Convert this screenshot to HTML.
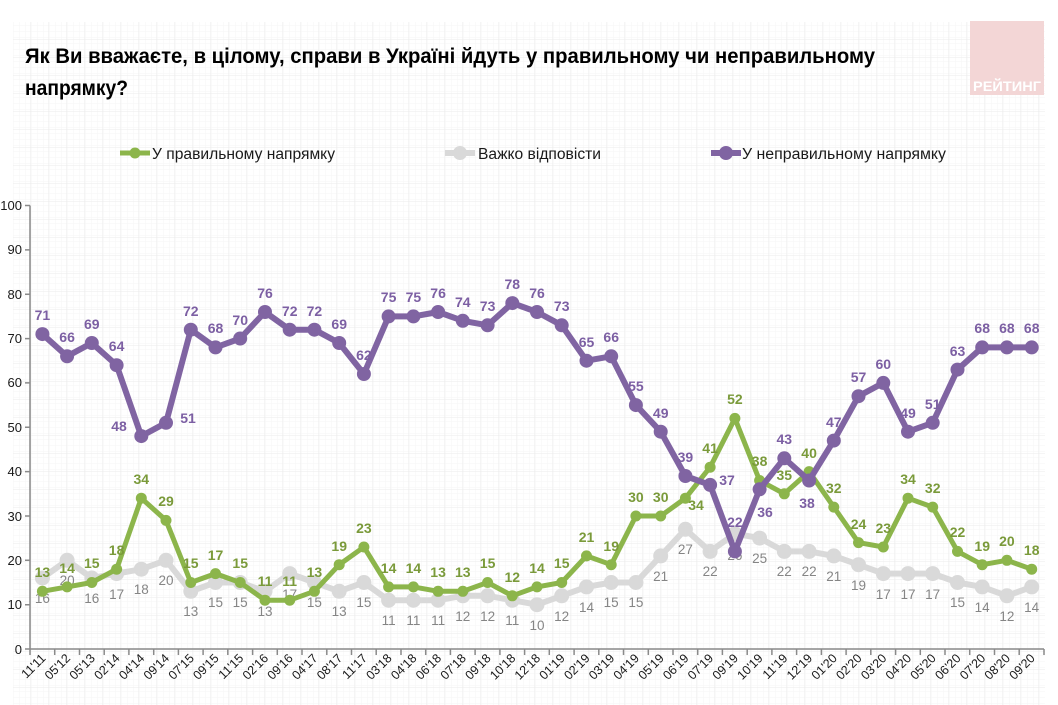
<!DOCTYPE html>
<html><head><meta charset="utf-8"><style>
html,body{margin:0;padding:0;background:#fff;}
svg{display:block;}
text{font-family:"Liberation Sans",Arial,sans-serif;}
.yl{font-size:13px;fill:#1a1a1a;text-anchor:end;}
.xl{font-size:12.5px;fill:#1a1a1a;text-anchor:end;}
.gl{font-size:13.5px;fill:#858585;text-anchor:middle;}
.grn{font-size:14px;font-weight:bold;fill:#7a9a3a;text-anchor:middle;}
.pur{font-size:14px;font-weight:bold;fill:#7c5fa3;text-anchor:middle;}
</style></head><body>
<svg width="1058" height="705" viewBox="0 0 1058 705" xmlns="http://www.w3.org/2000/svg">
<defs>
<pattern id="minor" x="13" y="22" width="6" height="6" patternUnits="userSpaceOnUse">
<path d="M6 0V6M0 6H6" stroke="#f6f6f6" stroke-width="1" fill="none"/>
</pattern>
<pattern id="major" x="13" y="22" width="18" height="18" patternUnits="userSpaceOnUse">
<rect width="18" height="18" fill="url(#minor)"/>
<path d="M18 0V18M0 18H18" stroke="#ebebeb" stroke-width="1" fill="none"/>
</pattern>
</defs>
<rect width="1058" height="705" fill="#fff"/>
<rect x="13" y="22" width="1032" height="683" fill="url(#major)"/>

<!-- logo -->
<rect x="970" y="21" width="74" height="74" fill="#f3d6d6"/>
<text x="973" y="91" font-size="14" font-weight="bold" fill="#ffffff" textLength="68" lengthAdjust="spacingAndGlyphs">РЕЙТИНГ</text>

<!-- title -->
<text x="25" y="63" font-size="21" font-weight="bold" fill="#000" textLength="850" lengthAdjust="spacingAndGlyphs">Як Ви вважаєте, в цілому, справи в Україні йдуть у правильному чи неправильному</text>
<text x="25" y="95" font-size="21" font-weight="bold" fill="#000" textLength="103" lengthAdjust="spacingAndGlyphs">напрямку?</text>

<!-- legend -->
<line x1="120" y1="153" x2="150" y2="153" stroke="#8cb54b" stroke-width="5"/>
<circle cx="135" cy="153" r="5.5" fill="#8cb54b"/>
<text x="152" y="159" font-size="15.5" fill="#1a1a1a" textLength="183" lengthAdjust="spacingAndGlyphs">У правильному напрямку</text>
<line x1="445" y1="153" x2="475" y2="153" stroke="#d9d9d9" stroke-width="6"/>
<circle cx="460" cy="153" r="7" fill="#d9d9d9"/>
<text x="478" y="159" font-size="15.5" fill="#1a1a1a" textLength="123" lengthAdjust="spacingAndGlyphs">Важко відповісти</text>
<line x1="711" y1="153" x2="741" y2="153" stroke="#8064a2" stroke-width="6"/>
<circle cx="726" cy="153" r="7" fill="#8064a2"/>
<text x="742" y="159" font-size="15.5" fill="#1a1a1a" textLength="204" lengthAdjust="spacingAndGlyphs">У неправильному напрямку</text>

<!-- axes -->
<g stroke="#8a8a8a" stroke-width="1.5" fill="none">
<line x1="30" y1="205.5" x2="30" y2="649"/>
<line x1="30" y1="649" x2="1044" y2="649"/>
<path d="M25 205.5H30M25 249.9H30M25 294.2H30M25 338.6H30M25 382.9H30M25 427.3H30M25 471.6H30M25 516H30M25 560.3H30M25 604.7H30M25 649H30"/>
<path d="M30 649v6M54.7 649v6M79.5 649v6M104.2 649v6M128.9 649v6M153.7 649v6M178.4 649v6M203.1 649v6M227.8 649v6M252.6 649v6M277.3 649v6M302 649v6M326.8 649v6M351.5 649v6M376.2 649v6M401 649v6M425.7 649v6M450.4 649v6M475.1 649v6M499.9 649v6M524.6 649v6M549.3 649v6M574.1 649v6M598.8 649v6M623.5 649v6M648.3 649v6M673 649v6M697.7 649v6M722.4 649v6M747.2 649v6M771.9 649v6M796.6 649v6M821.4 649v6M846.1 649v6M870.8 649v6M895.6 649v6M920.3 649v6M945 649v6M969.7 649v6M994.5 649v6M1019.2 649v6M1044 649v6"/>
</g>
<g class="yl">
<text x="22" y="210">100</text>
<text x="22" y="254">90</text>
<text x="22" y="299">80</text>
<text x="22" y="343">70</text>
<text x="22" y="387">60</text>
<text x="22" y="432">50</text>
<text x="22" y="476">40</text>
<text x="22" y="521">30</text>
<text x="22" y="565">20</text>
<text x="22" y="609">10</text>
<text x="22" y="654">0</text>
</g>
<g class="xl">
<text transform="translate(46.4,659) rotate(-45)">11'11</text>
<text transform="translate(71.1,659) rotate(-45)">05'12</text>
<text transform="translate(95.8,659) rotate(-45)">05'13</text>
<text transform="translate(120.6,659) rotate(-45)">02'14</text>
<text transform="translate(145.3,659) rotate(-45)">04'14</text>
<text transform="translate(170,659) rotate(-45)">09'14</text>
<text transform="translate(194.8,659) rotate(-45)">07'15</text>
<text transform="translate(219.5,659) rotate(-45)">09'15</text>
<text transform="translate(244.2,659) rotate(-45)">11'15</text>
<text transform="translate(269,659) rotate(-45)">02'16</text>
<text transform="translate(293.7,659) rotate(-45)">09'16</text>
<text transform="translate(318.4,659) rotate(-45)">04'17</text>
<text transform="translate(343.2,659) rotate(-45)">08'17</text>
<text transform="translate(367.9,659) rotate(-45)">11'17</text>
<text transform="translate(392.6,659) rotate(-45)">03'18</text>
<text transform="translate(417.4,659) rotate(-45)">04'18</text>
<text transform="translate(442.1,659) rotate(-45)">06'18</text>
<text transform="translate(466.8,659) rotate(-45)">07'18</text>
<text transform="translate(491.6,659) rotate(-45)">09'18</text>
<text transform="translate(516.3,659) rotate(-45)">10'18</text>
<text transform="translate(541,659) rotate(-45)">12'18</text>
<text transform="translate(565.7,659) rotate(-45)">01'19</text>
<text transform="translate(590.5,659) rotate(-45)">02'19</text>
<text transform="translate(615.2,659) rotate(-45)">03'19</text>
<text transform="translate(639.9,659) rotate(-45)">04'19</text>
<text transform="translate(664.7,659) rotate(-45)">05'19</text>
<text transform="translate(689.4,659) rotate(-45)">06'19</text>
<text transform="translate(714.1,659) rotate(-45)">07'19</text>
<text transform="translate(738.9,659) rotate(-45)">09'19</text>
<text transform="translate(763.6,659) rotate(-45)">10'19</text>
<text transform="translate(788.3,659) rotate(-45)">11'19</text>
<text transform="translate(813.1,659) rotate(-45)">12'19</text>
<text transform="translate(837.8,659) rotate(-45)">01'20</text>
<text transform="translate(862.5,659) rotate(-45)">02'20</text>
<text transform="translate(887.3,659) rotate(-45)">03'20</text>
<text transform="translate(912,659) rotate(-45)">04'20</text>
<text transform="translate(936.7,659) rotate(-45)">05'20</text>
<text transform="translate(961.5,659) rotate(-45)">06'20</text>
<text transform="translate(986.2,659) rotate(-45)">07'20</text>
<text transform="translate(1010.9,659) rotate(-45)">08'20</text>
<text transform="translate(1035.7,659) rotate(-45)">09'20</text>
</g>

<!-- GREY series -->
<polyline fill="none" stroke="#d9d9d9" stroke-width="6" stroke-linejoin="round" points="42.4,578 67.1,560.3 91.8,578 116.6,573.6 141.3,569.2 166,560.3 190.8,591.3 215.5,582.5 240.2,582.5 265,591.3 289.7,573.6 314.4,582.5 339.2,591.3 363.9,582.5 388.6,600.2 413.4,600.2 438.1,600.2 462.8,595.8 487.6,595.8 512.3,600.2 537,604.7 561.7,595.8 586.5,586.9 611.2,582.5 635.9,582.5 660.7,555.9 685.4,529.3 710.1,551.4 734.9,533.7 759.6,538.1 784.3,551.4 809.1,551.4 833.8,555.9 858.5,564.7 883.3,573.6 908,573.6 932.7,573.6 957.5,582.5 982.2,586.9 1006.9,595.8 1031.7,586.9"/>
<g fill="#d9d9d9">
<circle cx="42.4" cy="578" r="7.5"/><circle cx="67.1" cy="560.3" r="7.5"/><circle cx="91.8" cy="578" r="7.5"/><circle cx="116.6" cy="573.6" r="7.5"/><circle cx="141.3" cy="569.2" r="7.5"/><circle cx="166" cy="560.3" r="7.5"/><circle cx="190.8" cy="591.3" r="7.5"/><circle cx="215.5" cy="582.5" r="7.5"/><circle cx="240.2" cy="582.5" r="7.5"/><circle cx="265" cy="591.3" r="7.5"/><circle cx="289.7" cy="573.6" r="7.5"/><circle cx="314.4" cy="582.5" r="7.5"/><circle cx="339.2" cy="591.3" r="7.5"/><circle cx="363.9" cy="582.5" r="7.5"/><circle cx="388.6" cy="600.2" r="7.5"/><circle cx="413.4" cy="600.2" r="7.5"/><circle cx="438.1" cy="600.2" r="7.5"/><circle cx="462.8" cy="595.8" r="7.5"/><circle cx="487.6" cy="595.8" r="7.5"/><circle cx="512.3" cy="600.2" r="7.5"/><circle cx="537" cy="604.7" r="7.5"/><circle cx="561.7" cy="595.8" r="7.5"/><circle cx="586.5" cy="586.9" r="7.5"/><circle cx="611.2" cy="582.5" r="7.5"/><circle cx="635.9" cy="582.5" r="7.5"/><circle cx="660.7" cy="555.9" r="7.5"/><circle cx="685.4" cy="529.3" r="7.5"/><circle cx="710.1" cy="551.4" r="7.5"/><circle cx="734.9" cy="533.7" r="7.5"/><circle cx="759.6" cy="538.1" r="7.5"/><circle cx="784.3" cy="551.4" r="7.5"/><circle cx="809.1" cy="551.4" r="7.5"/><circle cx="833.8" cy="555.9" r="7.5"/><circle cx="858.5" cy="564.7" r="7.5"/><circle cx="883.3" cy="573.6" r="7.5"/><circle cx="908" cy="573.6" r="7.5"/><circle cx="932.7" cy="573.6" r="7.5"/><circle cx="957.5" cy="582.5" r="7.5"/><circle cx="982.2" cy="586.9" r="7.5"/><circle cx="1006.9" cy="595.8" r="7.5"/><circle cx="1031.7" cy="586.9" r="7.5"/>
</g>
<g class="gl">
<text x="42.4" y="603">16</text><text x="67.1" y="585">20</text><text x="91.8" y="603">16</text><text x="116.6" y="599">17</text><text x="141.3" y="594">18</text><text x="166" y="585">20</text><text x="190.8" y="616">13</text><text x="215.5" y="607">15</text><text x="240.2" y="607">15</text><text x="265" y="616">13</text><text x="289.7" y="599">17</text><text x="314.4" y="607">15</text><text x="339.2" y="616">13</text><text x="363.9" y="607">15</text><text x="388.6" y="625">11</text><text x="413.4" y="625">11</text><text x="438.1" y="625">11</text><text x="462.8" y="621">12</text><text x="487.6" y="621">12</text><text x="512.3" y="625">11</text><text x="537" y="630">10</text><text x="561.7" y="621">12</text><text x="586.5" y="612">14</text><text x="611.2" y="607">15</text><text x="635.9" y="607">15</text><text x="660.7" y="581">21</text><text x="685.4" y="554">27</text><text x="710.1" y="576">22</text><text x="734.9" y="560">26</text><text x="759.6" y="563">25</text><text x="784.3" y="576">22</text><text x="809.1" y="576">22</text><text x="833.8" y="581">21</text><text x="858.5" y="590">19</text><text x="883.3" y="599">17</text><text x="908" y="599">17</text><text x="932.7" y="599">17</text><text x="957.5" y="607">15</text><text x="982.2" y="612">14</text><text x="1006.9" y="621">12</text><text x="1031.7" y="612">14</text>
</g>

<!-- GREEN series -->
<polyline fill="none" stroke="#8cb54b" stroke-width="5" stroke-linejoin="round" points="42.4,591.3 67.1,586.9 91.8,582.5 116.6,569.2 141.3,498.2 166,520.4 190.8,582.5 215.5,573.6 240.2,582.5 265,600.2 289.7,600.2 314.4,591.3 339.2,564.7 363.9,547 388.6,586.9 413.4,586.9 438.1,591.3 462.8,591.3 487.6,582.5 512.3,595.8 537,586.9 561.7,582.5 586.5,555.9 611.2,564.7 635.9,516 660.7,516 685.4,498.2 710.1,467.2 734.9,418.4 759.6,480.5 784.3,493.8 809.1,471.6 833.8,507.1 858.5,542.6 883.3,547 908,498.2 932.7,507.1 957.5,551.4 982.2,564.7 1006.9,560.3 1031.7,569.2"/>
<g fill="#8cb54b">
<circle cx="42.4" cy="591.3" r="5.5"/><circle cx="67.1" cy="586.9" r="5.5"/><circle cx="91.8" cy="582.5" r="5.5"/><circle cx="116.6" cy="569.2" r="5.5"/><circle cx="141.3" cy="498.2" r="5.5"/><circle cx="166" cy="520.4" r="5.5"/><circle cx="190.8" cy="582.5" r="5.5"/><circle cx="215.5" cy="573.6" r="5.5"/><circle cx="240.2" cy="582.5" r="5.5"/><circle cx="265" cy="600.2" r="5.5"/><circle cx="289.7" cy="600.2" r="5.5"/><circle cx="314.4" cy="591.3" r="5.5"/><circle cx="339.2" cy="564.7" r="5.5"/><circle cx="363.9" cy="547" r="5.5"/><circle cx="388.6" cy="586.9" r="5.5"/><circle cx="413.4" cy="586.9" r="5.5"/><circle cx="438.1" cy="591.3" r="5.5"/><circle cx="462.8" cy="591.3" r="5.5"/><circle cx="487.6" cy="582.5" r="5.5"/><circle cx="512.3" cy="595.8" r="5.5"/><circle cx="537" cy="586.9" r="5.5"/><circle cx="561.7" cy="582.5" r="5.5"/><circle cx="586.5" cy="555.9" r="5.5"/><circle cx="611.2" cy="564.7" r="5.5"/><circle cx="635.9" cy="516" r="5.5"/><circle cx="660.7" cy="516" r="5.5"/><circle cx="685.4" cy="498.2" r="5.5"/><circle cx="710.1" cy="467.2" r="5.5"/><circle cx="734.9" cy="418.4" r="5.5"/><circle cx="759.6" cy="480.5" r="5.5"/><circle cx="784.3" cy="493.8" r="5.5"/><circle cx="809.1" cy="471.6" r="5.5"/><circle cx="833.8" cy="507.1" r="5.5"/><circle cx="858.5" cy="542.6" r="5.5"/><circle cx="883.3" cy="547" r="5.5"/><circle cx="908" cy="498.2" r="5.5"/><circle cx="932.7" cy="507.1" r="5.5"/><circle cx="957.5" cy="551.4" r="5.5"/><circle cx="982.2" cy="564.7" r="5.5"/><circle cx="1006.9" cy="560.3" r="5.5"/><circle cx="1031.7" cy="569.2" r="5.5"/>
</g>
<g class="grn">
<text x="42.4" y="577">13</text><text x="67.1" y="573">14</text><text x="91.8" y="568">15</text><text x="116.6" y="555">18</text><text x="141.3" y="484">34</text><text x="166" y="506">29</text><text x="190.8" y="568">15</text><text x="215.5" y="560">17</text><text x="240.2" y="568">15</text><text x="265" y="586">11</text><text x="289.7" y="586">11</text><text x="314.4" y="577">13</text><text x="339.2" y="551">19</text><text x="363.9" y="533">23</text><text x="388.6" y="573">14</text><text x="413.4" y="573">14</text><text x="438.1" y="577">13</text><text x="462.8" y="577">13</text><text x="487.6" y="568">15</text><text x="512.3" y="582">12</text><text x="537" y="573">14</text><text x="561.7" y="568">15</text><text x="586.5" y="542">21</text><text x="611.2" y="551">19</text><text x="635.9" y="502">30</text><text x="660.7" y="502">30</text><text x="696" y="510">34</text><text x="710.1" y="453">41</text><text x="734.9" y="404">52</text><text x="759.6" y="466">38</text><text x="784.3" y="480">35</text><text x="809.1" y="458">40</text><text x="833.8" y="493">32</text><text x="858.5" y="529">24</text><text x="883.3" y="533">23</text><text x="908" y="484">34</text><text x="932.7" y="493">32</text><text x="957.5" y="537">22</text><text x="982.2" y="551">19</text><text x="1006.9" y="546">20</text><text x="1031.7" y="555">18</text>
</g>

<!-- PURPLE series -->
<polyline fill="none" stroke="#8064a2" stroke-width="6" stroke-linejoin="round" points="42.4,334.1 67.1,356.3 91.8,343 116.6,365.2 141.3,436.1 166,422.8 190.8,329.7 215.5,347.4 240.2,338.5 265,312 289.7,329.7 314.4,329.7 339.2,343 363.9,374 388.6,316.4 413.4,316.4 438.1,312 462.8,320.8 487.6,325.3 512.3,303.1 537,312 561.7,325.3 586.5,360.7 611.2,356.3 635.9,405.1 660.7,431.7 685.4,476 710.1,484.9 734.9,551.4 759.6,489.3 784.3,458.3 809.1,480.5 833.8,440.6 858.5,396.2 883.3,382.9 908,431.7 932.7,422.8 957.5,369.6 982.2,347.4 1006.9,347.4 1031.7,347.4"/>
<g fill="#8064a2">
<circle cx="42.4" cy="334.1" r="7"/><circle cx="67.1" cy="356.3" r="7"/><circle cx="91.8" cy="343" r="7"/><circle cx="116.6" cy="365.2" r="7"/><circle cx="141.3" cy="436.1" r="7"/><circle cx="166" cy="422.8" r="7"/><circle cx="190.8" cy="329.7" r="7"/><circle cx="215.5" cy="347.4" r="7"/><circle cx="240.2" cy="338.5" r="7"/><circle cx="265" cy="312" r="7"/><circle cx="289.7" cy="329.7" r="7"/><circle cx="314.4" cy="329.7" r="7"/><circle cx="339.2" cy="343" r="7"/><circle cx="363.9" cy="374" r="7"/><circle cx="388.6" cy="316.4" r="7"/><circle cx="413.4" cy="316.4" r="7"/><circle cx="438.1" cy="312" r="7"/><circle cx="462.8" cy="320.8" r="7"/><circle cx="487.6" cy="325.3" r="7"/><circle cx="512.3" cy="303.1" r="7"/><circle cx="537" cy="312" r="7"/><circle cx="561.7" cy="325.3" r="7"/><circle cx="586.5" cy="360.7" r="7"/><circle cx="611.2" cy="356.3" r="7"/><circle cx="635.9" cy="405.1" r="7"/><circle cx="660.7" cy="431.7" r="7"/><circle cx="685.4" cy="476" r="7"/><circle cx="710.1" cy="484.9" r="7"/><circle cx="734.9" cy="551.4" r="7"/><circle cx="759.6" cy="489.3" r="7"/><circle cx="784.3" cy="458.3" r="7"/><circle cx="809.1" cy="480.5" r="7"/><circle cx="833.8" cy="440.6" r="7"/><circle cx="858.5" cy="396.2" r="7"/><circle cx="883.3" cy="382.9" r="7"/><circle cx="908" cy="431.7" r="7"/><circle cx="932.7" cy="422.8" r="7"/><circle cx="957.5" cy="369.6" r="7"/><circle cx="982.2" cy="347.4" r="7"/><circle cx="1006.9" cy="347.4" r="7"/><circle cx="1031.7" cy="347.4" r="7"/>
</g>
<g class="pur">
<text x="42.4" y="320">71</text><text x="67.1" y="342">66</text><text x="91.8" y="329">69</text><text x="116.6" y="351">64</text><text x="119" y="431">48</text><text x="188" y="423">51</text><text x="190.8" y="316">72</text><text x="215.5" y="333">68</text><text x="240.2" y="325">70</text><text x="265" y="298">76</text><text x="289.7" y="316">72</text><text x="314.4" y="316">72</text><text x="339.2" y="329">69</text><text x="363.9" y="360">62</text><text x="388.6" y="302">75</text><text x="413.4" y="302">75</text><text x="438.1" y="298">76</text><text x="462.8" y="307">74</text><text x="487.6" y="311">73</text><text x="512.3" y="289">78</text><text x="537" y="298">76</text><text x="561.7" y="311">73</text><text x="586.5" y="347">65</text><text x="611.2" y="342">66</text><text x="635.9" y="391">55</text><text x="660.7" y="418">49</text><text x="685.4" y="462">39</text><text x="727" y="485">37</text><text x="734.9" y="527">22</text><text x="765" y="517">36</text><text x="784.3" y="444">43</text><text x="807" y="508">38</text><text x="833.8" y="427">47</text><text x="858.5" y="382">57</text><text x="883.3" y="369">60</text><text x="908" y="418">49</text><text x="932.7" y="409">51</text><text x="957.5" y="356">63</text><text x="982.2" y="333">68</text><text x="1006.9" y="333">68</text><text x="1031.7" y="333">68</text>
</g>
</svg>
</body></html>
